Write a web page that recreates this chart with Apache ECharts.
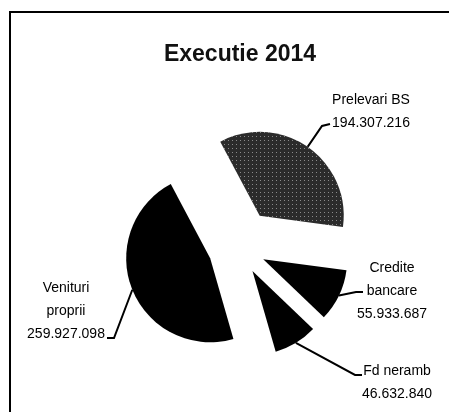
<!DOCTYPE html>
<html>
<head>
<meta charset="utf-8">
<script src="https://cdn.jsdelivr.net/npm/echarts@6/dist/echarts.min.js"></script>
<style>
  html, body { margin: 0; padding: 0; background: #fff; }
  #main { width: 449px; height: 412px; }
</style>
</head>
<body>
<div id="main"></div>
<script>
var chart = echarts.init(document.getElementById('main'));

// date din grafic
var categories = ['Prelevari BS', 'Credite\nbancare', 'Fd neramb', 'Venituri\nproprii'];
var values = [194307216, 55933687, 46632840, 259927098];
var valueLabels = ['194.307.216', '55.933.687', '46.632.840', '259.927.098'];

// aspect
var baseCenter = [238, 247];
var radius = 84;
var startAngle = 118;
var explode = [38, 28, 28, 30];
var sliceColors = ['#2b2b2b', '#000', '#000', '#000'];

// pozitii etichete (centru text, colt linie, capat linie)
var labelPos = [
  { x: 371, y: 112, lineTo: [322, 126], end: [330, 124] },
  { x: 392, y: 291, lineTo: [356, 292], end: [363, 292] },
  { x: 397, y: 383, lineTo: [355, 375], end: [362, 375] },
  { x: 66, y: 311, lineTo: [114, 338], end: [107, 338] }
];

var total = values.reduce(function (a, b) { return a + b; }, 0);

// fiecare felie intr-o serie proprie, cu centrul deplasat (pie explodat)
var series = [];
var cum = 0;
values.forEach(function (v, k) {
  var mid = (startAngle - (cum + v / 2) / total * 360) * Math.PI / 180;
  cum += v;
  var center = [
    baseCenter[0] + Math.cos(mid) * explode[k],
    baseCenter[1] - Math.sin(mid) * explode[k]
  ];
  series.push({
    type: 'pie',
    center: center,
    radius: [0, radius],
    startAngle: startAngle,
    clockwise: true,
    avoidLabelOverlap: false,
    emphasis: { disabled: true },
    label: {
      show: true,
      position: 'outside',
      formatter: function (p) {
        return p.name + '\n' + valueLabels[p.dataIndex];
      },
      fontFamily: 'Liberation Sans, sans-serif',
      fontSize: 14,
      lineHeight: 23,
      color: '#000',
      align: 'center'
    },
    labelLine: {
      show: true,
      length: 20,
      length2: 10,
      lineStyle: { color: '#000', width: 2 }
    },
    labelLayout: function (p) {
      var lp = labelPos[p.dataIndex];
      var pts = p.labelLinePoints;
      var start = pts ? pts[0] : lp.lineTo;
      return {
        x: lp.x,
        y: lp.y,
        align: 'center',
        verticalAlign: 'middle',
        labelLinePoints: [start, lp.lineTo, lp.end]
      };
    },
    data: categories.map(function (c, i) {
      var own = i === k;
      return {
        name: c,
        value: values[i],
        itemStyle: own ? {
          color: sliceColors[i],
          decal: i === 0 ? {
            symbol: 'rect',
            symbolSize: 1,
            color: 'rgba(255,255,255,0.45)',
            dashArrayX: [1, 3],
            dashArrayY: [1, 3]
          } : null
        } : { color: 'rgba(0,0,0,0)' },
        label: { show: own },
        labelLine: { show: own }
      };
    })
  });
});

chart.setOption({
  animation: false,
  backgroundColor: '#fff',
  title: {
    text: 'Executie 2014',
    left: 235,
    top: 38,
    textAlign: 'center',
    textStyle: {
      fontFamily: 'Liberation Sans, sans-serif',
      fontSize: 23,
      fontWeight: 'bold',
      color: '#111'
    }
  },
  graphic: [{
    type: 'polyline',
    shape: { points: [[10, 412], [10, 12], [449, 12]] },
    style: { stroke: '#000', lineWidth: 2, fill: null }
  }],
  series: series
});
</script>
</body>
</html>
